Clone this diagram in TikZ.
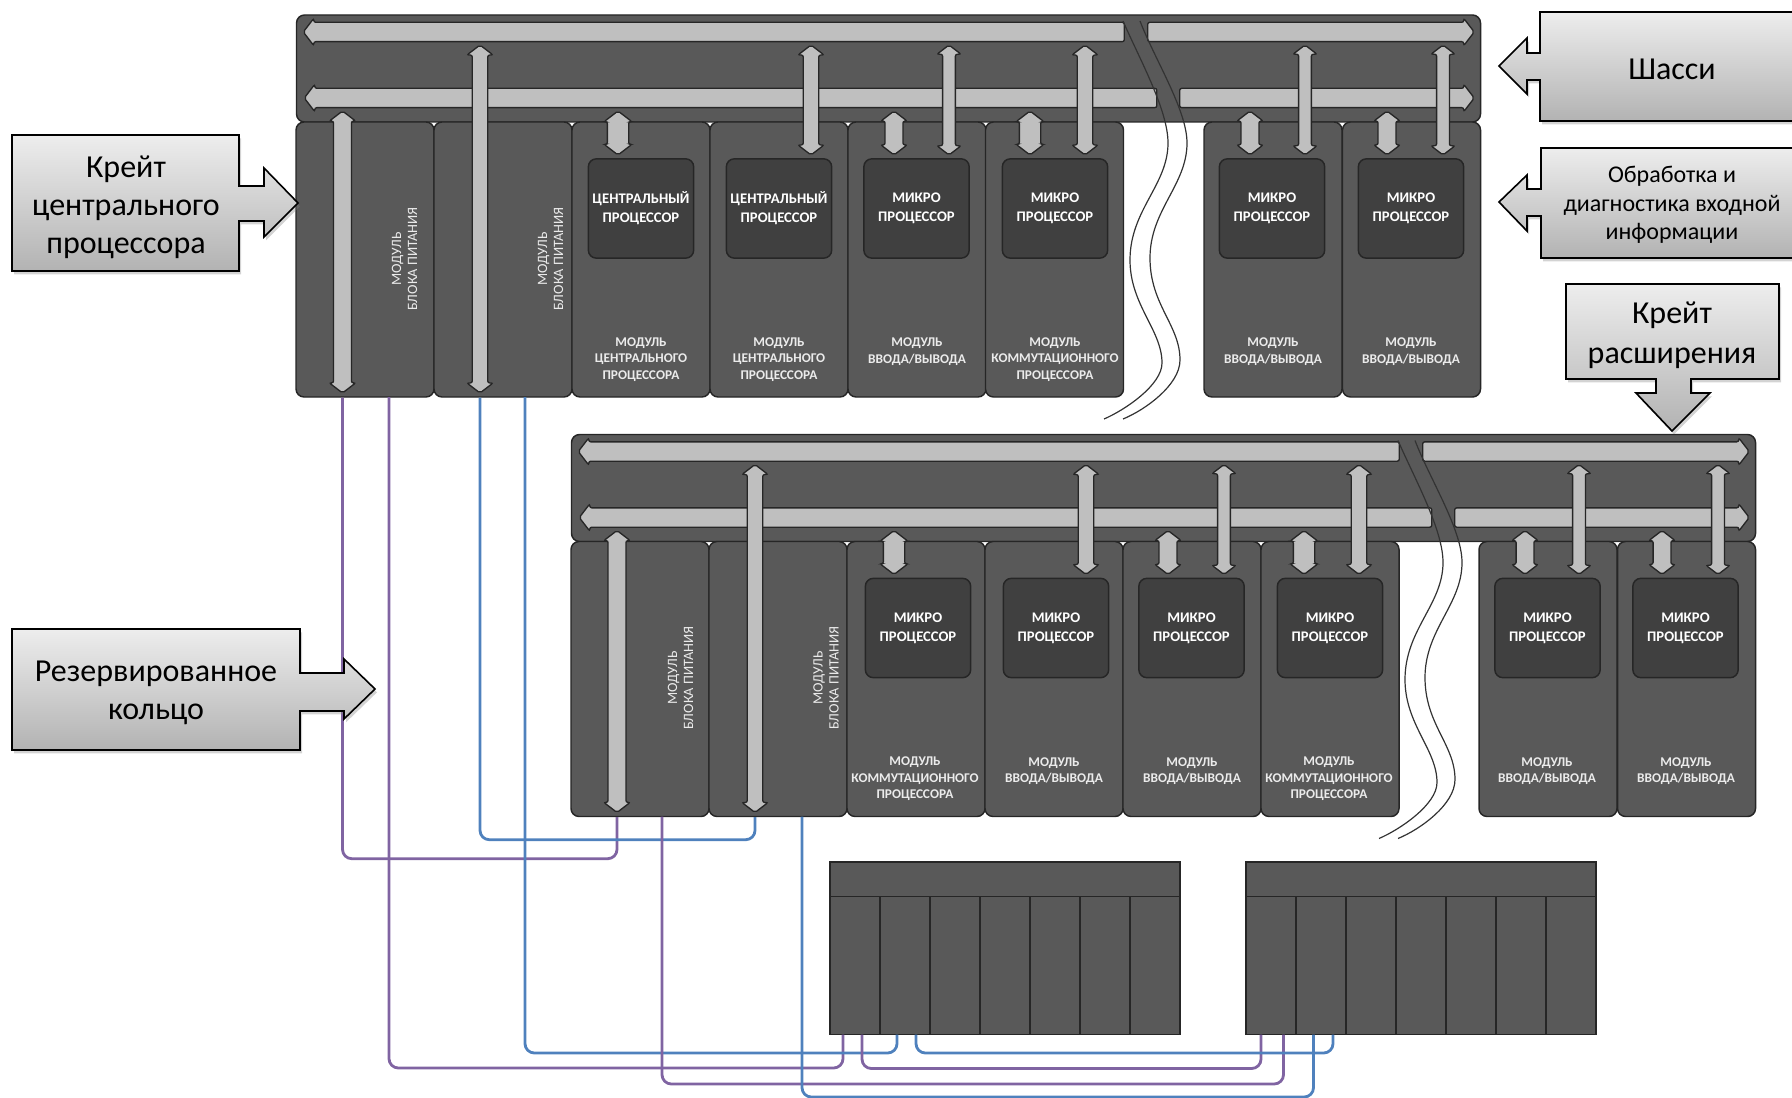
\documentclass[tikz,border=0pt]{standalone}
\usepackage{fontspec}
\setmainfont{Carlito}
\usetikzlibrary{shapes.arrows,shadows}

\definecolor{crate}{RGB}{89,89,89}
\definecolor{cpubox}{RGB}{64,64,64}
\definecolor{edgeline}{RGB}{38,38,38}
\definecolor{busfill}{RGB}{191,191,191}
\definecolor{ringpurple}{RGB}{128,100,162}
\definecolor{ringblue}{RGB}{79,129,189}

\tikzset{every picture/.style={line width=0.75pt}}
\tikzset{
  chassisbox/.style={draw=edgeline,fill=crate,line width=1.1pt,rounded corners=6pt,inner sep=0pt,minimum width=888pt,minimum height=80.25pt},
  modbox/.style={draw=edgeline,fill=crate,line width=1.1pt,rounded corners=6pt,inner sep=0pt,minimum width=103.5pt,minimum height=206.25pt},
  cpu/.style={draw=edgeline,fill=cpubox,line width=1.1pt,rounded corners=6pt,inner sep=0pt,minimum width=79pt,minimum height=74.5pt,text=white,align=center,font=\bfseries\fontsize{11}{14.2}\selectfont},
  modlabel/.style={inner sep=0.75pt,align=center,text=white!92!black,font=\bfseries\fontsize{10}{12.4}\selectfont},
  pwrlabel/.style={modlabel,rotate=90,font=\fontsize{10.7}{12}\selectfont},
  busbase/.style={single arrow,draw=edgeline,fill=busfill,line width=1pt,rounded corners=1.5pt,inner xsep=0pt,inner ysep=6.75pt,single arrow head extend=3pt,single arrow tip angle=105},
  busleft/.style={busbase,rotate=180},
  busright/.style={busbase},
  vlong/.style={double arrow,draw=edgeline,fill=busfill,line width=1pt,rounded corners=1.5pt,inner xsep=0pt,inner ysep=5.3pt,rotate=90,double arrow head extend=4pt,double arrow tip angle=105},
  vthin/.style={vlong,inner ysep=4.3pt,double arrow head extend=4.2pt},
  vwide/.style={vlong,inner ysep=7.5pt,double arrow head extend=2.5pt},
  vshort/.style={vlong,inner ysep=6.2pt,double arrow head extend=3.2pt},
  rackpart/.style={draw=black!85,fill=crate,line width=1.1pt,inner sep=0pt},
  rackcell/.style={rackpart,minimum width=37.5pt,minimum height=103.5pt},
  rackhead/.style={rackpart,minimum width=262.5pt,minimum height=26.25pt},
  ring/.style={line width=2.1pt,rounded corners=7pt},
  breakline/.style={draw=black!80,line width=0.9pt},
  callout/.style={draw=black,line width=1.2pt,top color=white!93!black,bottom color=black!30,drop shadow={shadow xshift=1.5pt,shadow yshift=-2.5pt,opacity=0.35}},
  calltext/.style={inner sep=0pt,align=center,text=black},
}

\begin{document}
\begin{tikzpicture}[x=0.75pt,y=0.75pt,yscale=-1,xscale=1]
\useasboundingbox (0,0) rectangle (1792,1098);

%Shape: Chassis and modules, upper crate
\draw (888.5,68.5) node (upChassis) [chassisbox] {};
\node (upPwrA) at (365,259.5) [modbox] {};
\node (upPwrB) at (503,259.5) [modbox] {};
\node (upCpuA) at (641,259.5) [modbox] {};
\node (upCpuB) at (779,259.5) [modbox] {};
\node (upIoA) at (917,259.5) [modbox] {};
\node (upComm) at (1054.5,259.5) [modbox] {};
\node (upIoB) at (1273,259.5) [modbox] {};
\node (upIoC) at (1411.5,259.5) [modbox] {};

%Shape: Processor boxes, upper crate
\node (upProcA) at (641,208.5) [cpu] {ЦЕНТРАЛЬНЫЙ\\ПРОЦЕССОР};
\node (upProcB) at (779,208.5) [cpu] {ЦЕНТРАЛЬНЫЙ\\ПРОЦЕССОР};
\node (upProcC) at (916.5,208.5) [cpu] {МИКРО\\ПРОЦЕССОР};
\node (upProcD) at (1055,208.5) [cpu] {МИКРО\\ПРОЦЕССОР};
\node (upProcE) at (1272,208.5) [cpu] {МИКРО\\ПРОЦЕССОР};
\node (upProcF) at (1411,208.5) [cpu] {МИКРО\\ПРОЦЕССОР};

%Shape: Bus arrows, upper crate
\node (upBusAL) at (717.5,32) [busleft,minimum height=615.75pt] {};
\node (upBusAR) at (1307.25,32) [busright,minimum height=244.875pt] {};
\node (upBusBL) at (734.25,98) [busleft,minimum height=639.375pt] {};
\node (upBusBR) at (1323.25,98) [busright,minimum height=220.875pt] {};
\node (upVertA) at (342.5,252) [vshort,minimum height=211.5pt] {};
\node (upVertB) at (480,219) [vlong,minimum height=261pt] {};
\node (upVertC) at (618,133) [vwide,minimum height=33pt] {};
\node (upVertD) at (811,100) [vlong,minimum height=82.5pt] {};
\node (upVertE) at (894,133) [vshort,minimum height=33pt] {};
\node (upVertF) at (949,100) [vthin,minimum height=82.5pt] {};
\node (upVertG) at (1030,133) [vwide,minimum height=33pt] {};
\node (upVertH) at (1085,100) [vlong,minimum height=82.5pt] {};
\node (upVertI) at (1250,133) [vshort,minimum height=33pt] {};
\node (upVertJ) at (1305,100) [vthin,minimum height=82.5pt] {};
\node (upVertK) at (1387,133) [vshort,minimum height=33pt] {};
\node (upVertL) at (1443,100) [vthin,minimum height=82.5pt] {};

%Curve Lines: break, upper crate
\draw [breakline] (1123,21) .. controls (1140,60) and (1168,110) .. (1168,143) .. controls (1168,185) and (1130,210) .. (1130,260) .. controls (1130,305) and (1162,330) .. (1162,363) .. controls (1162,385) and (1125,410) .. (1104,419);
\draw [breakline] (1140,21) .. controls (1155,60) and (1187,110) .. (1187,143) .. controls (1187,185) and (1150,210) .. (1150,258) .. controls (1150,305) and (1180,325) .. (1180,360) .. controls (1180,385) and (1145,410) .. (1123,419);

% Text Node
\draw (404.5,259) node (upPwrTextA) [pwrlabel] {МОДУЛЬ\\БЛОКА ПИТАНИЯ};
\draw (550.5,259) node (upPwrTextB) [pwrlabel] {МОДУЛЬ\\БЛОКА ПИТАНИЯ};
\draw (641,359.5) node (upTextA) [modlabel] {МОДУЛЬ\\ЦЕНТРАЛЬНОГО\\ПРОЦЕССОРА};
\draw (779,359.5) node (upTextB) [modlabel] {МОДУЛЬ\\ЦЕНТРАЛЬНОГО\\ПРОЦЕССОРА};
\draw (917,351.5) node (upTextC) [modlabel] {МОДУЛЬ\\ВВОДА/ВЫВОДА};
\draw (1055,359.5) node (upTextD) [modlabel] {МОДУЛЬ\\КОММУТАЦИОННОГО\\ПРОЦЕССОРА};
\draw (1273,351.5) node (upTextE) [modlabel] {МОДУЛЬ\\ВВОДА/ВЫВОДА};
\draw (1411,351.5) node (upTextF) [modlabel] {МОДУЛЬ\\ВВОДА/ВЫВОДА};

%Shape: Chassis and modules, lower crate
\draw (1163.5,488) node (loChassis) [chassisbox] {};
\node (loPwrA) at (640,679) [modbox] {};
\node (loPwrB) at (778,679) [modbox] {};
\node (loCommA) at (916,679) [modbox] {};
\node (loIoA) at (1054,679) [modbox] {};
\node (loIoB) at (1192,679) [modbox] {};
\node (loCommB) at (1330,679) [modbox] {};
\node (loIoC) at (1548,679) [modbox] {};
\node (loIoD) at (1686.5,679) [modbox] {};

%Shape: Processor boxes, lower crate
\node (loProcA) at (918,628) [cpu] {МИКРО\\ПРОЦЕССОР};
\node (loProcB) at (1056,628) [cpu] {МИКРО\\ПРОЦЕССОР};
\node (loProcC) at (1191.5,628) [cpu] {МИКРО\\ПРОЦЕССОР};
\node (loProcD) at (1330,628) [cpu] {МИКРО\\ПРОЦЕССОР};
\node (loProcE) at (1547.5,628) [cpu] {МИКРО\\ПРОЦЕССОР};
\node (loProcF) at (1685.5,628) [cpu] {МИКРО\\ПРОЦЕССОР};

%Shape: Bus arrows, lower crate
\node (loBusAL) at (992.5,451.5) [busleft,minimum height=615.75pt] {};
\node (loBusAR) at (1582.25,451.5) [busright,minimum height=244.875pt] {};
\node (loBusBL) at (1009.25,517.5) [busleft,minimum height=639.375pt] {};
\node (loBusBR) at (1598.25,517.5) [busright,minimum height=220.875pt] {};
\node (loVertA) at (617,671.5) [vshort,minimum height=211.5pt] {};
\node (loVertB) at (755,638.5) [vlong,minimum height=261pt] {};
\node (loVertC) at (894,552.5) [vwide,minimum height=33pt] {};
\node (loVertD) at (1086,519.5) [vlong,minimum height=82.5pt] {};
\node (loVertE) at (1168,552.5) [vshort,minimum height=33pt] {};
\node (loVertF) at (1224,519.5) [vthin,minimum height=82.5pt] {};
\node (loVertG) at (1304,552.5) [vwide,minimum height=33pt] {};
\node (loVertH) at (1359,519.5) [vlong,minimum height=82.5pt] {};
\node (loVertI) at (1525,552.5) [vshort,minimum height=33pt] {};
\node (loVertJ) at (1579,519.5) [vthin,minimum height=82.5pt] {};
\node (loVertK) at (1662,552.5) [vshort,minimum height=33pt] {};
\node (loVertL) at (1718,519.5) [vthin,minimum height=82.5pt] {};

%Curve Lines: break, lower crate
\draw [breakline] (1398,440.5) .. controls (1415,479.5) and (1443,529.5) .. (1443,562.5) .. controls (1443,604.5) and (1405,629.5) .. (1405,679.5) .. controls (1405,724.5) and (1437,749.5) .. (1437,782.5) .. controls (1437,804.5) and (1400,829.5) .. (1379,838.5);
\draw [breakline] (1415,440.5) .. controls (1430,479.5) and (1462,529.5) .. (1462,562.5) .. controls (1462,604.5) and (1425,629.5) .. (1425,677.5) .. controls (1425,724.5) and (1455,744.5) .. (1455,779.5) .. controls (1455,804.5) and (1420,829.5) .. (1398,838.5);

% Text Node
\draw (680.5,678) node (loPwrTextA) [pwrlabel] {МОДУЛЬ\\БЛОКА ПИТАНИЯ};
\draw (826,678) node (loPwrTextB) [pwrlabel] {МОДУЛЬ\\БЛОКА ПИТАНИЯ};
\draw (915,779) node (loTextA) [modlabel] {МОДУЛЬ\\КОММУТАЦИОННОГО\\ПРОЦЕССОРА};
\draw (1054,771) node (loTextB) [modlabel] {МОДУЛЬ\\ВВОДА/ВЫВОДА};
\draw (1192,771) node (loTextC) [modlabel] {МОДУЛЬ\\ВВОДА/ВЫВОДА};
\draw (1329,779) node (loTextD) [modlabel] {МОДУЛЬ\\КОММУТАЦИОННОГО\\ПРОЦЕССОРА};
\draw (1547,771) node (loTextE) [modlabel] {МОДУЛЬ\\ВВОДА/ВЫВОДА};
\draw (1686,771) node (loTextF) [modlabel] {МОДУЛЬ\\ВВОДА/ВЫВОДА};

%Shape: Rack, left
\node (rackAHead) at (1005,879.5) [rackhead] {};
\node (rackACellA) at (855,965.5) [rackcell] {};
\node (rackACellB) at (905,965.5) [rackcell] {};
\node (rackACellC) at (955,965.5) [rackcell] {};
\node (rackACellD) at (1005,965.5) [rackcell] {};
\node (rackACellE) at (1055,965.5) [rackcell] {};
\node (rackACellF) at (1105,965.5) [rackcell] {};
\node (rackACellG) at (1155,965.5) [rackcell] {};

%Shape: Rack, right
\node (rackBHead) at (1421,879.5) [rackhead] {};
\node (rackBCellA) at (1271,965.5) [rackcell] {};
\node (rackBCellB) at (1321,965.5) [rackcell] {};
\node (rackBCellC) at (1371,965.5) [rackcell] {};
\node (rackBCellD) at (1421,965.5) [rackcell] {};
\node (rackBCellE) at (1471,965.5) [rackcell] {};
\node (rackBCellF) at (1521,965.5) [rackcell] {};
\node (rackBCellG) at (1571,965.5) [rackcell] {};

%Ports on the module and rack edges
\coordinate (upPortA) at (389,397);
\coordinate (upPortB) at (525,397);
\coordinate (loPortA) at (662,816.5);
\coordinate (loPortB) at (802,816.5);
\coordinate (rackAPortA) at (843,1034.5);
\coordinate (rackAPortB) at (862,1034.5);
\coordinate (rackAPortC) at (897,1034.5);
\coordinate (rackAPortD) at (916,1034.5);
\coordinate (rackBPortA) at (1261,1034.5);
\coordinate (rackBPortB) at (1283.5,1034.5);
\coordinate (rackBPortC) at (1313.5,1034.5);
\coordinate (rackBPortD) at (1333,1034.5);

%Straight Lines: redundant ring
\draw [ring,ringpurple] (upPwrA.south -| upVertA) -- ++(0,461) -| (loPwrA.south -| loVertA);
\draw [ring,ringblue] (upPwrB.south -| upVertB) -- ++(0,442) -| (loPwrB.south -| loVertB);
\draw [ring,ringpurple] (upPortA) -- ++(0,671) -| (rackAPortA);
\draw [ring,ringblue] (upPortB) -- ++(0,656) -| (rackAPortC);
\draw [ring,ringpurple] (loPortA) -- ++(0,267.5) -| (rackBPortB);
\draw [ring,ringblue] (loPortB) -- ++(0,280.5) -| (rackBPortC);
\draw [ring,ringpurple] (rackAPortB) -- ++(0,34) -| (rackBPortA);
\draw [ring,ringblue] (rackAPortD) -- ++(0,18.5) -| (rackBPortD);

%Shape: Callouts
\draw [callout] (12,135) -- (239,135) -- (239,186) -- (264,186) -- (264,168) -- (298,203) -- (264,237) -- (264,221) -- (239,221) -- (239,271) -- (12,271) -- cycle;
\draw [callout] (12,629) -- (300,629) -- (300,673) -- (344,673) -- (344,659) -- (375,689) -- (344,719) -- (344,711) -- (300,711) -- (300,750) -- (12,750) -- cycle;
\draw [callout] (1800,12) -- (1540,12) -- (1540,53) -- (1527,53) -- (1527,38) -- (1499,66) -- (1527,94) -- (1527,80) -- (1540,80) -- (1540,121) -- (1800,121) -- cycle;
\draw [callout] (1800,148) -- (1541,148) -- (1541,189) -- (1527,189) -- (1527,175) -- (1499,202) -- (1527,231) -- (1527,216) -- (1541,216) -- (1541,258) -- (1800,258) -- cycle;
\draw [callout] (1566,284) -- (1779,284) -- (1779,379) -- (1691,379) -- (1691,393) -- (1710,393) -- (1672,431) -- (1636,393) -- (1656,393) -- (1656,379) -- (1566,379) -- cycle;

% Text Node
\draw (126,207) node (crateCpuText) [calltext,font=\fontsize{24}{28.5}\selectfont] {Крейт\\центрального\\процессора};
\draw (156,693) node (ringText) [calltext,font=\fontsize{24}{28.5}\selectfont] {Резервированное\\кольцо};
\draw (1672,69) node (chassisText) [calltext,font=\fontsize{24}{28.5}\selectfont] {Шасси};
\draw (1672,205) node (inputText) [calltext,font=\fontsize{18}{21.4}\selectfont] {Обработка и\\диагностика входной\\информации};
\draw (1672,335) node (crateExtText) [calltext,font=\fontsize{24}{30}\selectfont] {Крейт\\расширения};

\end{tikzpicture}
\end{document}
